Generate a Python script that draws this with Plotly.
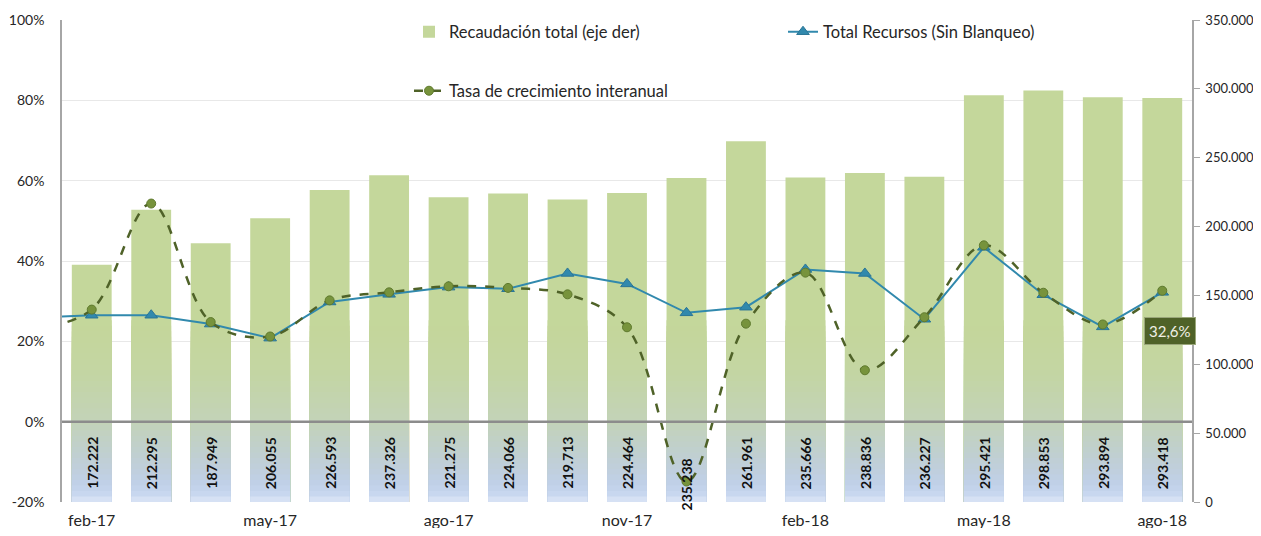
import plotly.graph_objects as go
import numpy as np

# ---------------- data ----------------
months = ["ene-17", "feb-17", "mar-17", "abr-17", "may-17", "jun-17", "jul-17",
          "ago-17", "sep-17", "oct-17", "nov-17", "dic-17", "ene-18", "feb-18",
          "mar-18", "abr-18", "may-18", "jun-18", "jul-18", "ago-18"]
bar_months = months[1:]
recaudacion = [172222, 212295, 187949, 206055, 226593, 237326, 221275, 224066,
               219713, 224464, 235238, 261961, 235666, 238836, 236227, 295421,
               298853, 293894, 293418]
total_recursos = [25.9, 26.5, 26.5, 24.3, 20.8, 29.8, 31.7, 33.5, 33.1, 36.9,
                  34.3, 27.1, 28.5, 37.9, 36.9, 25.5, 43.4, 31.6, 23.6, 32.2]
tasa_crecimiento = [23.0, 27.9, 54.3, 24.8, 21.2, 30.2, 32.2, 33.7, 33.3, 31.7,
                    23.5, -14.9, 24.4, 37.1, 12.8, 26.0, 43.9, 32.1, 24.2, 32.6]

pct_ticks = [-20, 0, 20, 40, 60, 80, 100]
pct_ticktext = ["-20%", "0%", "20%", "40%", "60%", "80%", "100%"]
val_ticks = [0, 50000, 100000, 150000, 200000, 250000, 300000, 350000]
val_ticktext = ["0", "50.000", "100.000", "150.000", "200.000", "250.000",
                "300.000", "350.000"]
x_ticklabels = ["feb-17", "may-17", "ago-17", "nov-17", "feb-18", "may-18", "ago-18"]
last_label = "32,6%"

# ---------------- styling helpers ----------------
FONT = "Lato"
GREEN_BAR = "#c4d79b"
BLUE = "#3189ad"
DARK_OLIVE = "#4f6228"
OLIVE = "#77933c"

stops_v = [0, 4000, 12000, 30000, 58000, 95000, 130000]
stops_c = [(226, 234, 247), (203, 217, 241), (193, 209, 234), (192, 207, 214),
           (195, 211, 185), (196, 214, 163), (196, 215, 155)]


def grad_color(v):
    r = np.interp(v, stops_v, [c[0] for c in stops_c])
    g = np.interp(v, stops_v, [c[1] for c in stops_c])
    b = np.interp(v, stops_v, [c[2] for c in stops_c])
    return f"rgb({int(r)},{int(g)},{int(b)})"


fig = go.Figure()

# main bars (full height, green)
fig.add_trace(go.Bar(
    x=bar_months, y=recaudacion, name="Recaudación total (eje der)",
    marker=dict(color=GREEN_BAR, line=dict(width=0)), yaxis="y",
    legend="legend", hoverinfo="skip"))

# gradient bands toward the base of the bars
step = 4000
thresholds = list(range(132000, 0, -step))
vals = np.array(recaudacion)
for t in thresholds:
    fig.add_trace(go.Bar(
        x=bar_months, y=np.minimum(vals, t), showlegend=False,
        marker=dict(color=grad_color(t - step / 2), line=dict(width=0)),
        yaxis="y", hoverinfo="skip"))

# lines (percent axis)
fig.add_trace(go.Scatter(
    x=months, y=total_recursos, name="Total Recursos (Sin Blanqueo)",
    mode="lines+markers", yaxis="y2", legend="legend2",
    line=dict(color=BLUE, width=2),
    marker=dict(symbol="triangle-up", size=11, color=BLUE,
                line=dict(color="#2a7596", width=1))))

fig.add_trace(go.Scatter(
    x=months, y=tasa_crecimiento, name="Tasa de crecimiento interanual",
    mode="lines+markers", yaxis="y2", legend="legend3",
    line=dict(color=DARK_OLIVE, width=2.5, dash="dash", shape="spline",
              smoothing=1.0),
    marker=dict(symbol="circle", size=9, color=OLIVE,
                line=dict(color="#5f7a2e", width=1))))

# bar value labels (rotated)
annotations = []
for m, v, g in zip(bar_months, recaudacion, tasa_crecimiento[1:]):
    annotations.append(dict(
        x=m, y=min(-10.3, g - 0.6), xref="x", yref="y2",
        text=f"{v:,}".replace(",", "."), textangle=-90, showarrow=False,
        font=dict(family=FONT, size=14, color="#111111", weight="bold")))

annotations.append(dict(
    x=months[-1], y=tasa_crecimiento[-1], xref="x", yref="y2",
    text=last_label, showarrow=False, xshift=8, yshift=-40,
    bgcolor=DARK_OLIVE, bordercolor="#9aa77a", borderwidth=1, borderpad=4,
    font=dict(family=FONT, size=15, color="#f0f0e6")))

# page body has an 8px margin; figure drawn from (8, 8) and kept inside the body
OFF = 8
W, H = 1261 - 2 * OFF, 536 - 2 * OFF
L, T = 62 - OFF, 20 - OFF
R = W - (1192 - OFF)
B = H - (502 - OFF)
pw = W - L - R
ph = H - T - B


def px_x(x):
    return (x - OFF - L) / pw


def px_y(y):
    return (H - B - (y - OFF)) / ph


fig.update_layout(
    width=W, height=H,
    margin=dict(l=L, r=R, t=T, b=B, autoexpand=False),
    paper_bgcolor="white", plot_bgcolor="white",
    barmode="overlay", bargap=0.33,
    font=dict(family=FONT, size=14, color="#262626"),
    annotations=annotations,
    shapes=[dict(type="line", xref="paper", x0=0, x1=1, yref="y2", y0=0, y1=0,
                 line=dict(color="#8c8c8c", width=2.5), layer="above")],
    xaxis=dict(type="category", categoryorder="array", categoryarray=months,
               range=[0.5, len(months) - 0.5], tickmode="array",
               tickvals=x_ticklabels, ticktext=x_ticklabels, showgrid=False,
               showline=False, ticks="", ticklabelstandoff=7,
               tickfont=dict(size=16, color="#262626"), automargin=False),
    yaxis=dict(side="right", range=[0, 350000], tickmode="array",
               tickvals=val_ticks, ticktext=val_ticktext, showgrid=False,
               zeroline=False, showline=True, linecolor="#a6a6a6", linewidth=1.5,
               ticks="outside", ticklen=6, tickcolor="#a6a6a6", tickwidth=1,
               ticklabelstandoff=3,
               tickfont=dict(size=13, color="#262626"), automargin=False),
    yaxis2=dict(side="left", overlaying="y", range=[-20, 100], tickmode="array",
                tickvals=pct_ticks, ticktext=pct_ticktext, showgrid=True,
                gridcolor="#e8e8e8", gridwidth=1, zeroline=False,
                showline=True, linecolor="#a6a6a6", linewidth=1.5, ticks="",
                ticklabelstandoff=13,
                tickfont=dict(size=14, color="#262626"), automargin=False),
    legend=dict(x=px_x(409), y=px_y(32), xanchor="left", yanchor="middle",
                bgcolor="rgba(0,0,0,0)", font=dict(size=16.5, color="#262626")),
    legend2=dict(x=px_x(783), y=px_y(32), xanchor="left", yanchor="middle",
                 bgcolor="rgba(0,0,0,0)", font=dict(size=16.5, color="#262626")),
    legend3=dict(x=px_x(409), y=px_y(91), xanchor="left", yanchor="middle",
                 bgcolor="rgba(0,0,0,0)", font=dict(size=16.5, color="#262626")),
)

fig.write_html("out.html")
